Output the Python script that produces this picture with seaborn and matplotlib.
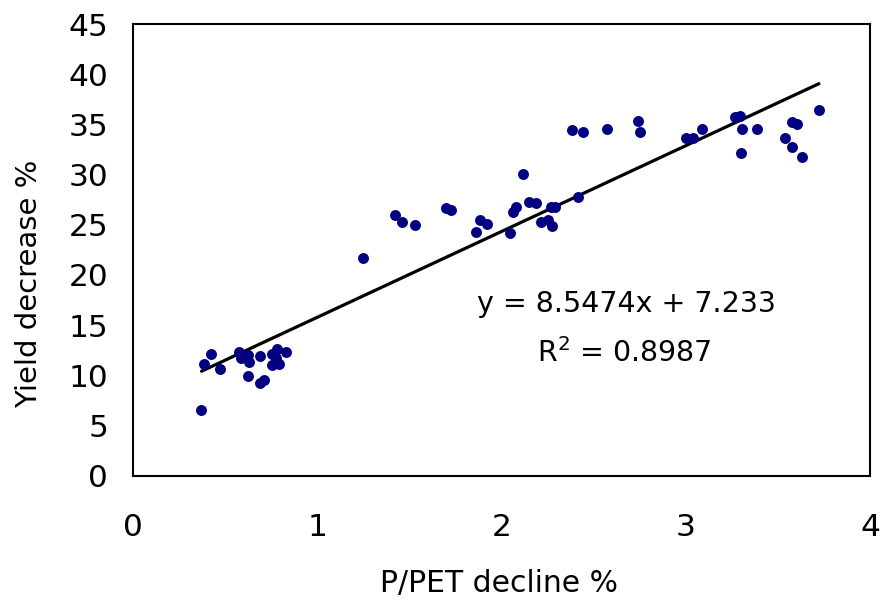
import matplotlib
matplotlib.use("Agg")
import matplotlib.pyplot as plt
import numpy as np
import pandas as pd
import seaborn as sns

# P/PET decline (%) and the matching yield decrease (%)
pet_decline = [
    0.420, 0.384, 0.471, 0.370, 0.572, 0.583, 0.623, 0.626, 0.623, 0.690,
    0.686, 0.710, 0.753, 0.753, 0.782, 0.773, 0.791, 0.827, 1.249, 1.419,
    1.458, 1.528, 1.700, 1.723, 1.860, 1.884, 1.922, 2.047, 2.061, 2.080,
    2.114, 2.148, 2.188, 2.216, 2.251, 2.270, 2.275, 2.288, 2.384, 2.413,
    2.441, 2.572, 2.740, 2.749, 3.003, 3.039, 3.087, 3.265, 3.292, 3.299,
    3.307, 3.386, 3.536, 3.578, 3.578, 3.603, 3.632, 3.723,
]
yield_decrease = [
    12.09, 11.16, 10.66, 6.51, 12.35, 11.72, 12.02, 11.35, 9.90, 11.92,
    9.26, 9.53, 12.09, 11.06, 12.62, 11.69, 11.16, 12.35, 21.65, 25.92,
    25.24, 24.97, 26.69, 26.46, 24.30, 25.47, 25.07, 24.20, 26.29, 26.79,
    30.04, 27.29, 27.13, 25.24, 25.47, 26.79, 24.90, 26.79, 34.40, 27.79,
    34.26, 34.56, 35.33, 34.26, 33.67, 33.67, 34.56, 35.70, 35.86, 32.11,
    34.53, 34.53, 33.63, 35.20, 32.71, 35.03, 31.77, 36.42,
]

# linear trend line coefficients and fit quality
slope = 8.5474
intercept = 7.233
r_squared = 0.8987

x_ticks = [0, 1, 2, 3, 4]
y_ticks = [0, 5, 10, 15, 20, 25, 30, 35, 40, 45]

sns.set_style("white")
plt.rcParams["font.family"] = ["DejaVu Sans"]

df = pd.DataFrame({"x": pet_decline, "y": yield_decrease})

fig = plt.figure(figsize=(8.8, 6.05), dpi=100)
ax = fig.add_axes([0.1515, 0.214, 0.8371, 0.7463])

sns.scatterplot(data=df, x="x", y="y", ax=ax, color="#000080", s=62,
                linewidth=0, zorder=3)

line_x = np.array([min(pet_decline), max(pet_decline)])
line_y = slope * line_x + intercept
sns.lineplot(x=line_x, y=line_y, ax=ax, color="black", linewidth=2.3,
             zorder=2)

ax.set_xlim(0, 4)
ax.set_ylim(0, 45)
ax.set_xticks(x_ticks)
ax.set_yticks(y_ticks)
ax.set_xticklabels([str(t) for t in x_ticks])
ax.set_yticklabels([str(t) for t in y_ticks])

ax.tick_params(axis="x", direction="in", length=8, width=0.8,
               color="black", labelsize=22.5, pad=27, labelcolor="black")
ax.tick_params(axis="y", direction="in", length=8, width=0.8,
               color="black", labelsize=22.5, pad=18, labelcolor="black")

for side in ["left", "right", "top", "bottom"]:
    ax.spines[side].set_visible(True)
    ax.spines[side].set_color("black")
    ax.spines[side].set_linewidth(1.5)

ax.set_xlabel("P/PET decline %", fontsize=21.5, color="black")
ax.set_ylabel("Yield decrease %", fontsize=21, color="black")
ax.xaxis.set_label_coords(0.4964, -0.208)
ax.yaxis.set_label_coords(-0.1224, 0.424)

ax.text(2.68, 16.3, f"y = {slope}x + {intercept}", fontsize=20.5,
        ha="center", va="baseline", color="black")
ax.text(2.665, 11.33, f"R$^2$ = {r_squared}", fontsize=20.5,
        ha="center", va="baseline", color="black")

fig.savefig("out.png", dpi=100, facecolor="white")
